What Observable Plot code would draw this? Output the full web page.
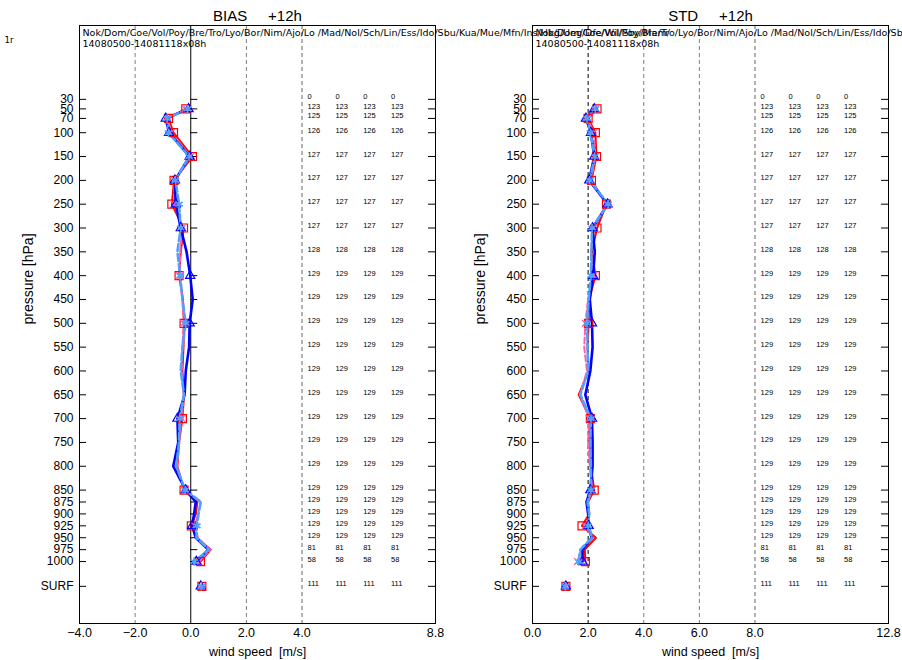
<!DOCTYPE html>
<html>
<head>
<meta charset="utf-8">
<script src="https://cdn.jsdelivr.net/npm/d3@7"></script>
<script src="https://cdn.jsdelivr.net/npm/@observablehq/plot@0.6"></script>
<style>
  body { margin: 0; background: #fff; }
  #chart { position: relative; width: 902px; height: 660px; overflow: hidden; background: #fff; }
  #chart svg { position: absolute; top: 0; overflow: visible; }
</style>
</head>
<body>
<div id="chart"></div>
<script>
// Radiosonde wind-speed verification, +12h forecasts, four runs
const stations = ["Nok","Dom","Coe","Vol","Poy","Bre","Tro","Lyo","Bor","Nim","Ajo","Lo ","Mad","Nol","Sch","Lin","Ess","Ido","Sbu","Kua","Mue","Mfn","Ins","Hbg","Ueg","Dfe","Wil","Sby","Mam"];
const period = "14080500-14081118x08h";
const leadTime = "+12h";

// pressure levels on the axis (hPa) and number of observations per level
const pressureTicks = [30,50,70,100,150,200,250,300,350,400,450,500,550,600,650,700,750,800,850,875,900,925,950,975,1000];
const counts        = [0,123,125,126,127,127,127,127,128,129,129,129,129,129,129,129,129,129,129,129,129,129,129,81,58];
const surfaceCount = 111;

// levels with profile values, and levels carrying symbols
const profileLevels = [50,70,100,150,200,250,300,350,400,450,500,550,600,650,700,750,800,850,875,900,925,950,975,1000];
const markerLevels  = [50,70,100,150,200,250,300,400,500,700,850,925,1000];

// BIAS (m/s)
const biasRed   = [-0.18,-0.80,-0.62, 0.06,-0.60,-0.68,-0.26,-0.36,-0.42,-0.28,-0.24,-0.26,-0.30,-0.24,-0.30,-0.42,-0.48,-0.24, 0.24, 0.18, 0.02, 0.22, 0.72, 0.35];
const biasPink  = [-0.20,-0.82,-0.70, 0.00,-0.58,-0.60,-0.30,-0.38,-0.40,-0.30,-0.26,-0.30,-0.32,-0.26,-0.32,-0.44,-0.50,-0.22, 0.36, 0.26, 0.14, 0.26, 0.70, 0.30];
const biasBlue  = [-0.08,-0.90,-0.78,-0.04,-0.57,-0.54,-0.36,-0.15,-0.02, 0.07,-0.04,-0.06,-0.18,-0.22,-0.48,-0.45,-0.63,-0.18, 0.18, 0.12, 0.05, 0.18, 0.63, 0.20];
const biasLight = [-0.12,-0.85,-0.80,-0.06,-0.55,-0.42,-0.36,-0.48,-0.38,-0.30,-0.18,-0.30,-0.36,-0.24,-0.40,-0.42,-0.52,-0.20, 0.36, 0.28, 0.22, 0.20, 0.66, 0.12];
const biasSurface = [0.40, 0.38, 0.36, 0.38];

// STD (m/s)
const stdRed   = [2.32,2.00,2.26,2.30,2.12,2.66,2.32,2.14,2.26,2.04,2.02,1.98,2.02,1.66,2.08,2.06,2.10,2.22,2.00,2.04,1.78,2.28,1.88,1.90];
const stdPink  = [2.28,1.98,2.20,2.26,2.10,2.68,2.20,2.10,2.20,2.00,1.90,1.86,1.96,1.70,2.04,2.00,2.06,2.16,1.98,2.04,1.90,2.18,1.76,1.62];
const stdBlue  = [2.22,1.92,2.10,2.22,2.04,2.70,2.16,2.24,2.18,2.06,2.14,2.16,2.08,1.90,2.14,2.16,2.16,2.08,1.94,2.00,2.02,2.12,1.80,1.80];
const stdLight = [2.26,1.96,2.08,2.24,2.06,2.72,2.14,2.12,2.10,2.02,1.96,1.98,2.00,1.72,2.10,2.08,2.10,2.10,1.98,2.04,2.00,2.14,1.72,1.66];
const stdSurface = [1.20, 1.18, 1.20, 1.18];

// where the surface row sits on the pressure axis
const surfaceRow = 1052;

const runStyles = [
  {color: "#ff0000", width: 2,   dash: null,  symbol: "square",   r: 4.5, sw: 1.2},
  {color: "#ff5fa8", width: 2,   dash: "6,3", symbol: "times",    r: 3.2, sw: 1.2},
  {color: "#0000ff", width: 2.6, dash: null,  symbol: "triangle", r: 3.4, sw: 1.2},
  {color: "#4fa0ff", width: 2.6, dash: "7,3", symbol: "asterisk", r: 4,   sw: 1.6}
];

const W = 451, H = 660;
const fmtX = d => d.toFixed(1).replace("-", "\u2212");
const fmtY = d => d === surfaceRow ? "SURF" : String(d);

function panel(o) {
  const ml = o.marginLeft, mr = o.marginRight;
  const span = o.xDomain[1] - o.xDomain[0];
  const zeroDx = (0 - o.xDomain[0]) / span * (W - ml - mr);
  const yTicks = pressureTicks.concat([surfaceRow]);
  const countRows = pressureTicks.map((p, i) => ({pos: p, n: counts[i]})).concat([{pos: surfaceRow, n: surfaceCount}]);
  const header = stations.join("/") + "/\n" + period;

  const marks = [];
  for (const g of o.guides) {
    marks.push(Plot.ruleX([g.x], {stroke: g.stroke, strokeDasharray: g.dash, strokeWidth: 1}));
  }
  marks.push(Plot.frame({stroke: "black", strokeWidth: 1}));

  // pressure labels, inward ticks on both sides of the frame
  marks.push(Plot.axisY({anchor: "left", ticks: yTicks, tickSize: 0, tickPadding: 6, tickFormat: fmtY, fontSize: 12, label: null}));
  marks.push(Plot.axisY({anchor: "left", ticks: yTicks, tickSize: -7, tickFormat: () => "", label: null}));
  marks.push(Plot.axisY({anchor: "right", ticks: yTicks, tickSize: -8, tickFormat: () => "", label: null}));
  if (o.zeroTicks) {
    marks.push(Plot.axisY({anchor: "left", ticks: pressureTicks, tickSize: -7, tickFormat: () => "", dx: zeroDx, label: null}));
  }
  marks.push(Plot.axisX({ticks: o.xTicks, tickSize: 0, tickPadding: 5, tickFormat: fmtX, fontSize: 12.5, label: null}));

  // profiles
  o.values.forEach((vals, s) => {
    const st = runStyles[s];
    marks.push(Plot.line(profileLevels, {x: (d, i) => vals[i], y: d => d, stroke: st.color, strokeWidth: st.width, strokeDasharray: st.dash}));
  });
  o.values.forEach((vals, s) => {
    const st = runStyles[s];
    const pts = markerLevels.map(p => ({y: p, x: vals[profileLevels.indexOf(p)]})).concat([{y: surfaceRow, x: o.surface[s]}]);
    marks.push(Plot.dot(pts, {x: "x", y: "y", symbol: st.symbol, r: st.r, fill: "none", stroke: st.color, strokeWidth: st.sw}));
  });

  // observation counts, one column per run
  o.values.forEach((vals, s) => {
    marks.push(Plot.text(countRows, {x: o.countStart + s, y: "pos", text: d => String(d.n), textAnchor: "start", lineAnchor: "bottom", fontSize: 7.5, fill: "black"}));
  });

  // titles and labels
  marks.push(Plot.text([`${o.title}     ${leadTime}`], {frameAnchor: "top", dy: -5, lineAnchor: "bottom", fontSize: 15, fill: "black"}));
  marks.push(Plot.text([header], {frameAnchor: "top-left", dx: 3, dy: 2, lineAnchor: "top", textAnchor: "start", fontSize: 9.5, lineHeight: 1.2, fontFamily: "DejaVu Sans", fill: "black"}));
  marks.push(Plot.text(["pressure [hPa]"], {frameAnchor: "left", dx: o.yLabelDx, rotate: -90, fontSize: 14, fill: "black"}));
  marks.push(Plot.text(["wind speed  [m/s]"], {frameAnchor: "bottom", dy: 28, lineAnchor: "middle", fontSize: 12.5, fill: "black"}));
  if (o.extra) marks.push(o.extra);

  const svg = Plot.plot({
    width: W, height: H,
    marginLeft: ml, marginRight: mr, marginTop: 25, marginBottom: 37,
    x: {domain: o.xDomain},
    y: {domain: [1130, -125], label: null},
    style: {fontFamily: "Liberation Sans, Arial, sans-serif", background: "transparent", overflow: "visible", color: "black"},
    marks
  });
  svg.style.left = o.left + "px";
  return svg;
}

const chart = document.getElementById("chart");

chart.appendChild(panel({
  title: "BIAS",
  left: 0, marginLeft: 79, marginRight: 16,
  xDomain: [-4, 8.8], xTicks: [-4, -2, 0, 2, 4, 8.8],
  guides: [
    {x: -2, stroke: "#808080", dash: "4,3"},
    {x: 2, stroke: "#808080", dash: "4,3"},
    {x: 4, stroke: "#666666", dash: "4,3"},
    {x: 0, stroke: "black", dash: null}
  ],
  zeroTicks: true,
  values: [biasRed, biasPink, biasBlue, biasLight],
  surface: biasSurface,
  countStart: 4.2,
  yLabelDx: -51,
  extra: Plot.text(["1r"], {frameAnchor: "top-left", dx: -75, dy: 11, lineAnchor: "top", textAnchor: "start", fontSize: 8.7, fontFamily: "DejaVu Sans", fill: "black"})
}));

chart.appendChild(panel({
  title: "STD",
  left: 451, marginLeft: 81, marginRight: 14,
  xDomain: [0, 12.8], xTicks: [0, 2, 4, 6, 8, 12.8],
  guides: [
    {x: 2, stroke: "black", dash: "4,3"},
    {x: 4, stroke: "#808080", dash: "4,3"},
    {x: 6, stroke: "#808080", dash: "4,3"},
    {x: 8, stroke: "#666666", dash: "4,3"}
  ],
  zeroTicks: false,
  values: [stdRed, stdPink, stdBlue, stdLight],
  surface: stdSurface,
  countStart: 8.2,
  yLabelDx: -52
}));
</script>
</body>
</html>
